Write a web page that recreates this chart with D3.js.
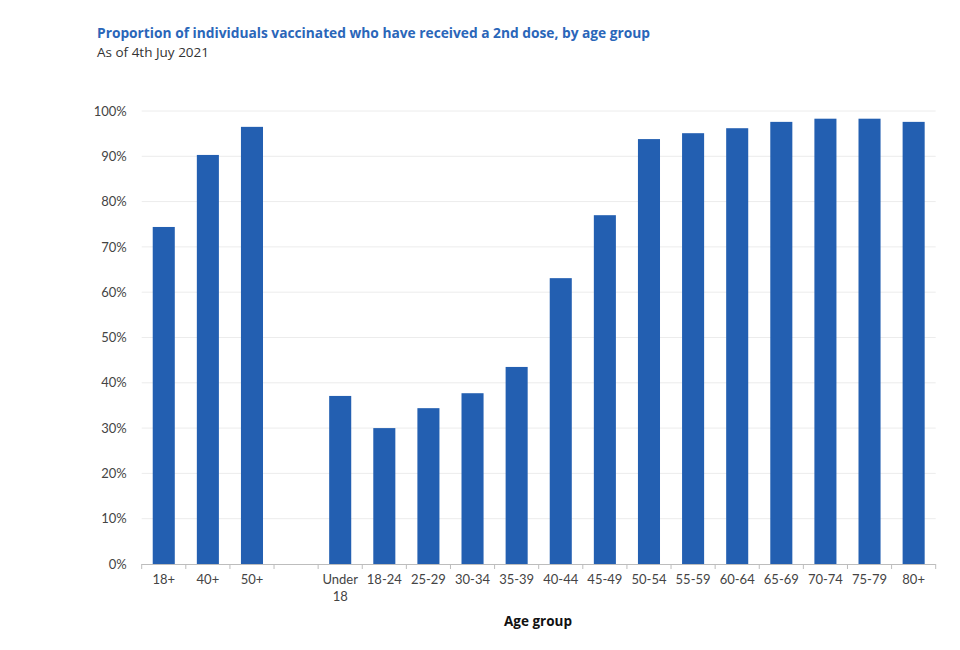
<!DOCTYPE html>
<html><head><meta charset="utf-8">
<script src="https://cdn.jsdelivr.net/npm/d3@7"></script>
<style>body{margin:0;background:#fff;} text{font-family:"Lato","Open Sans",sans-serif;}</style>
</head><body>
<svg id="chart" width="960" height="650"></svg>
<script>
const categories = ["18+","40+","50+","","Under 18","18-24","25-29","30-34","35-39","40-44","45-49","50-54","55-59","60-64","65-69","70-74","75-79","80+"];
const values = [74.4,90.3,96.5,null,37.1,30.0,34.4,37.7,43.5,63.1,77.0,93.8,95.1,96.2,97.6,98.3,98.3,97.6];
const yTicks = [0,10,20,30,40,50,60,70,80,90,100];
const title = "Proportion of individuals vaccinated who have received a 2nd dose, by age group";
const subtitle = "As of 4th Juy 2021";
const xTitle = "Age group";

const svg = d3.select("#chart");
const m = {left:141.7, right:935.7, top:111, bottom:564};
const keys = categories.map((c,i)=>i);
const x = d3.scaleBand().domain(keys).range([m.left,m.right]).paddingInner(0.5).paddingOuter(0.25);
const y = d3.scaleLinear().domain([0,100]).range([m.bottom,m.top]);

svg.append("text").attr("x",97).attr("y",38).attr("fill","#2a66b9").attr("font-weight","bold").attr("font-size",13.75)
  .style("font-family","'Open Sans', sans-serif").text(title);
svg.append("text").attr("x",97).attr("y",57).attr("fill","#333").attr("font-size",13.5)
  .style("font-family","'Open Sans', sans-serif").text(subtitle);

// grid
svg.append("g").selectAll("line").data(yTicks.filter(t=>t>0)).join("line")
  .attr("x1",m.left).attr("x2",m.right).attr("y1",d=>y(d)).attr("y2",d=>y(d))
  .attr("stroke","#ececec").attr("stroke-width",1);

// y labels
const yAxis = svg.append("g").attr("transform",`translate(${m.left-12},0)`)
  .call(d3.axisLeft(y).tickValues(yTicks).tickSize(0).tickFormat(d=>d+"%"));
yAxis.select(".domain").remove();
yAxis.selectAll("text").attr("font-size",13).attr("fill","#444").style("font-family","Lato, sans-serif");

// bars
svg.append("g").selectAll("rect").data(keys.filter(i=>values[i]!=null)).join("rect")
  .attr("x",i=>x(i)).attr("width",x.bandwidth())
  .attr("y",i=>y(values[i])).attr("height",i=>y(0)-y(values[i]))
  .attr("fill","#235fb1");

// x axis line and boundary ticks
svg.append("line").attr("x1",m.left).attr("x2",m.right).attr("y1",m.bottom+0.5).attr("y2",m.bottom+0.5).attr("stroke","#bdbdbd");
const bounds = d3.range(categories.length+1).map(i=>m.left + i*x.step());
svg.append("g").selectAll("line").data(bounds).join("line")
  .attr("x1",d=>d).attr("x2",d=>d).attr("y1",m.bottom).attr("y2",m.bottom+5).attr("stroke","#bdbdbd");

// x labels
const xl = svg.append("g").selectAll("text").data(keys).join("text")
  .attr("x",i=>x(i)+x.bandwidth()/2).attr("y",584).attr("text-anchor","middle")
  .attr("font-size",13).attr("fill","#444");
xl.each(function(i){
  const parts = categories[i]==="Under 18" ? ["Under","18"] : [categories[i]];
  d3.select(this).selectAll("tspan").data(parts).join("tspan")
    .attr("x",x(i)+x.bandwidth()/2).attr("dy",(d,j)=>j===0?0:17).text(d=>d);
});

svg.append("text").attr("x",538).attr("y",626).attr("text-anchor","middle")
  .attr("font-weight","bold").attr("font-size",13.5).attr("fill","#111")
  .style("font-family","'Open Sans', sans-serif").text(xTitle);
</script>
</body></html>
